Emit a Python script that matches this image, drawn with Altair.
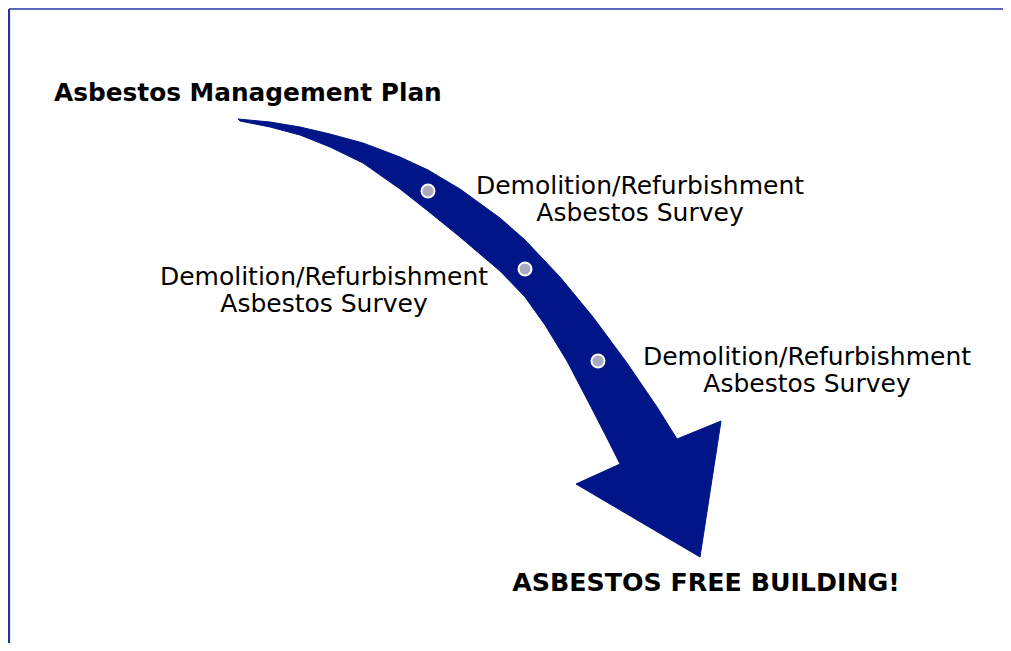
import altair as alt
import pandas as pd

# ---- values (page pixel coordinates) ----
# outer (upper/right) edge of the curved arrow body, tail -> head
UPPER_X = [238, 270, 300, 330, 363, 400, 428, 460, 500, 525, 560, 593, 627, 657, 677]
UPPER_Y = [119, 122, 127, 134, 143, 157, 170, 189, 218, 240, 277, 317, 363, 407, 439]
# arrow head: right barb, tip, left barb, left notch
HEAD_X = [721, 700, 576, 620]
HEAD_Y = [421, 557, 484, 464]
# inner (lower/left) edge of the body, head -> tail
LOWER_X = [608, 590, 567, 545, 525, 500, 460, 428, 400, 363, 330, 300, 270, 240]
LOWER_Y = [440, 405, 361, 325, 297, 271, 237, 211, 189, 163, 147, 135, 127, 121]

# milestone dots on the arrow
DOT_X = [428, 525, 598]
DOT_Y = [191, 269, 361]

# survey labels (centre x, first-line baseline y)
LABELS = ["Demolition/Refurbishment\nAsbestos Survey"] * 3
LABEL_X = [640, 324, 807]
LABEL_Y = [194, 285, 365]

TITLE_TOP = "Asbestos Management Plan"
TITLE_BOTTOM = "ASBESTOS FREE BUILDING!"

# frame lines
FRAME_X = [9, 9]
FRAME_X2 = [1011, 9]
FRAME_Y = [9, 9]
FRAME_Y2 = [9, 651]
FRAME_W = [1.5, 2.2]

NAVY = "#001588"
FRAME = "#2233a3"
FONT = "DejaVu Sans"

W, H = 995, 635
xs = alt.Scale(domain=[8, 8 + W], nice=False, zero=False)
ys = alt.Scale(domain=[8 + H, 8], nice=False, zero=False)

ox = UPPER_X + HEAD_X + LOWER_X + [UPPER_X[0]]
oy = UPPER_Y + HEAD_Y + LOWER_Y + [UPPER_Y[0]]
arrow_df = pd.DataFrame({"x": ox, "y": oy, "i": list(range(len(ox)))})

arrow = alt.Chart(arrow_df).mark_line(
    fill=NAVY, stroke=NAVY, strokeWidth=1, interpolate="linear", strokeJoin="round"
).encode(
    x=alt.X("x:Q", scale=xs, axis=None),
    y=alt.Y("y:Q", scale=ys, axis=None),
    order="i:Q",
)

dots = alt.Chart(pd.DataFrame({"x": DOT_X, "y": DOT_Y})).mark_circle(
    size=170, color="#a9a9c2", opacity=1, stroke="white", strokeWidth=2
).encode(
    x=alt.X("x:Q", scale=xs, axis=None),
    y=alt.Y("y:Q", scale=ys, axis=None),
)

labels = alt.Chart(pd.DataFrame({"t": LABELS, "x": LABEL_X, "y": LABEL_Y})).mark_text(
    font=FONT, fontSize=25, align="center", baseline="alphabetic",
    lineBreak="\n", lineHeight=26.5, color="black"
).encode(
    x=alt.X("x:Q", scale=xs, axis=None),
    y=alt.Y("y:Q", scale=ys, axis=None),
    text="t:N",
)

title_top = alt.Chart(pd.DataFrame({"t": [TITLE_TOP], "x": [54], "y": [101]})).mark_text(
    font=FONT, fontSize=24.8, fontWeight="bold", baseline="alphabetic", align="left", color="black"
).encode(
    x=alt.X("x:Q", scale=xs, axis=None),
    y=alt.Y("y:Q", scale=ys, axis=None),
    text="t:N",
)
title_bottom = alt.Chart(pd.DataFrame({"t": [TITLE_BOTTOM], "x": [706], "y": [591]})).mark_text(
    font=FONT, fontSize=25.3, fontWeight="bold", baseline="alphabetic", align="center", color="black"
).encode(
    x=alt.X("x:Q", scale=xs, axis=None),
    y=alt.Y("y:Q", scale=ys, axis=None),
    text="t:N",
)

frame = alt.Chart(pd.DataFrame({
    "x": FRAME_X, "x2": FRAME_X2, "y": FRAME_Y, "y2": FRAME_Y2, "w": FRAME_W
})).mark_rule(color=FRAME).encode(
    x=alt.X("x:Q", scale=xs, axis=None),
    x2="x2:Q",
    y=alt.Y("y:Q", scale=ys, axis=None),
    y2="y2:Q",
    strokeWidth=alt.StrokeWidth("w:Q", scale=None, legend=None),
)

chart = alt.layer(frame, arrow, dots, labels, title_top, title_bottom).properties(
    width=W, height=H, padding=0, autosize=alt.AutoSizeParams(type="none"),
    background="white",
).configure_view(stroke=None)

chart.save("out.html", embed_options={"renderer": "svg", "actions": False})
